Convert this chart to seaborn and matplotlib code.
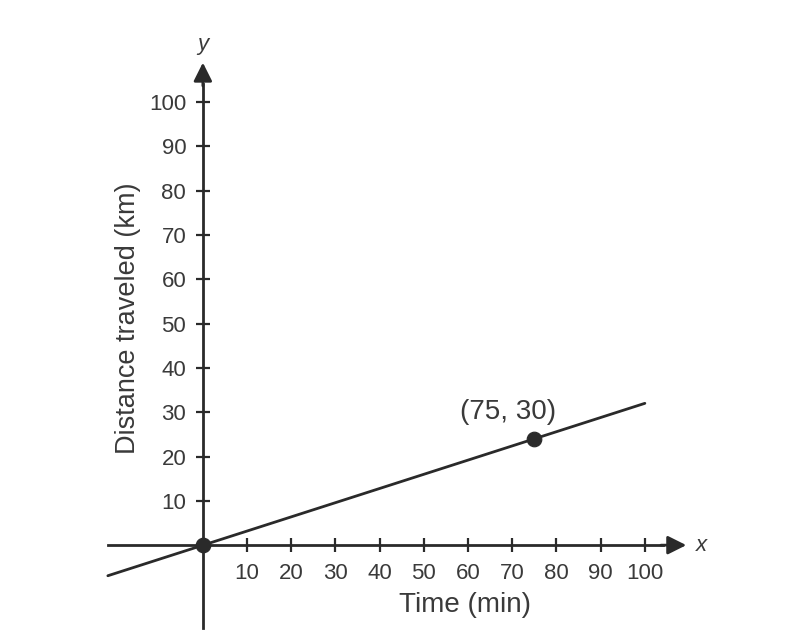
import numpy as np
import matplotlib
matplotlib.use("Agg")
import matplotlib.pyplot as plt
import seaborn as sns

# data
x_ticks = [10, 20, 30, 40, 50, 60, 70, 80, 90, 100]
y_ticks = [10, 20, 30, 40, 50, 60, 70, 80, 90, 100]
line_x = [-21.5, 100]
line_y = [-6.9, 32.0]
point_x = [0, 75]
point_y = [0, 24]
point_label = "(75, 30)"

sns.set_style("white")
plt.rcParams["font.family"] = ["Liberation Sans", "DejaVu Sans"]
ink = "#2a2a2a"
txt = "#3a3a3a"

fig = plt.figure(figsize=(8, 6.44), dpi=100)
ax = fig.add_axes([0, 0, 1, 1])

sns.lineplot(x=line_x, y=line_y, ax=ax, color=ink, lw=2)
sns.scatterplot(x=point_x, y=point_y, ax=ax, color=ink, s=110, zorder=5, edgecolor=ink)

ax.set_xlim(-45.9, 135.1)
ax.set_ylim(-22.3, 123.0)

for s in ["top", "right"]:
    ax.spines[s].set_visible(False)
ax.spines["left"].set_position(("data", 0))
ax.spines["bottom"].set_position(("data", 0))
ax.spines["left"].set_bounds(-18.7, 104)
ax.spines["bottom"].set_bounds(-21.5, 104)
for s in ["left", "bottom"]:
    ax.spines[s].set_color(ink)
    ax.spines[s].set_linewidth(2)

# arrow heads
ax.annotate("", xy=(110, 0), xytext=(103, 0),
            arrowprops=dict(arrowstyle="-|>", color=ink, lw=2, mutation_scale=28))
ax.annotate("", xy=(0, 109.5), xytext=(0, 103),
            arrowprops=dict(arrowstyle="-|>", color=ink, lw=2, mutation_scale=28))

ax.set_xticks(x_ticks)
ax.set_yticks(y_ticks)
ax.tick_params(axis="both", bottom=True, left=True, direction="inout", length=10,
               width=1.6, color=ink, labelsize=16, labelcolor=txt)
ax.tick_params(axis="x", pad=8)
ax.tick_params(axis="y", pad=7)

ax.set_xlabel("Time (min)", fontsize=20, color=txt)
ax.set_ylabel("Distance traveled (km)", fontsize=19.5, color=txt)
ax.xaxis.set_label_coords(465 / 800, 1 - 605 / 644)
ax.yaxis.set_label_coords(128 / 800, 1 - 318 / 644)
ax.xaxis.label.set_va("center")
ax.yaxis.label.set_va("center")

ax.text(111.5, 0, "x", style="italic", fontsize=16, color=txt, va="center", ha="left")
ax.text(0, 110.5, "y", style="italic", fontsize=16, color=txt, va="bottom", ha="center")
ax.text(point_x[1] - 6, point_y[1] + 3, point_label, fontsize=20, color=txt,
        ha="center", va="bottom")

fig.savefig("out.png", dpi=100)
